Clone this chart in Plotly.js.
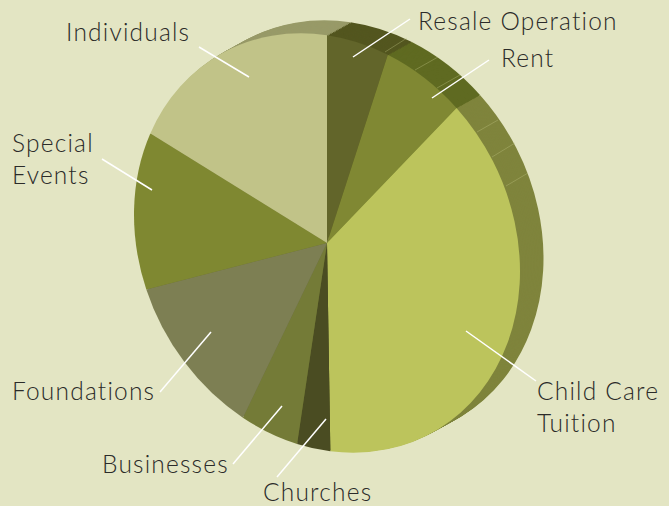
<!DOCTYPE html>
<html>
<head>
<meta charset="utf-8">
<script src="https://cdn.plot.ly/plotly-3.0.1.min.js"></script>
<style>html,body{margin:0;padding:0;background:#e3e5c3}#chart{width:669px;height:506px}
.annotation-text{letter-spacing:1.2px;font-variant-ligatures:none}</style>
</head>
<body>
<div id="chart"></div>
<script>
const categories = ["Resale Operation","Rent","Child Care Tuition","Churches","Businesses","Foundations","Special Events","Individuals"];
const shares = [5.1, 6.6, 38.0, 2.75, 4.7, 12.1, 12.3, 18.4];
const topColors = ["#62652a","#808833","#bcc45c","#4a4c22","#747b37","#7d7f53","#7f8831","#c1c388"];
const sideColors = ["#53561f","#5f6a21","#7f843c","#3d3f1b","#62682c","#6a6c44","#6a7228","#989a68"];
const labelTexts = ["Resale Operation","Rent","Child Care<br>Tuition","Churches","Businesses","Foundations","Special<br>Events","Individuals"];

const W = 669, H = 506;
// pie geometry: a small circular pie, then sheared into the tilted ellipse of the 3-D look
const cx = 327, cy = 243, r = 100;
const tilt = {a: 1.93, b: 0.2835, c: 0, d: 2.078};
const depth = {x: 23.5, y: -13};
const layers = 16;

const labelPos = [[416,20.5],[499,57],[535,406],[261,491],[100,463],[10,390],[10,158],[64,31.5]];
const leaders = [[[410,19],[353,57]],[[489,60],[432,98]],[[466,331],[536,381]],[[326,419],[277,477]],
                 [[282,406],[233,464]],[[211,332],[160,392]],[[102,159],[152,190]],[[199,47],[249,77]]];
const seams = [[[385,52],[407,38]],[[415,70],[438,57]],[[437,88],[460,75]],
               [[477,132],[498,120]],[[492,157],[515,143]],[[506,186],[528,173]]];

const domain = {x: [(cx-r)/W, (cx+r)/W], y: [(H-cy-r)/H, (H-cy+r)/H]};
const pieTrace = colors => ({
  type: "pie", labels: categories, values: shares, sort: false, direction: "clockwise", rotation: 0,
  textinfo: "none", hoverinfo: "label+percent", showlegend: false, domain: domain,
  marker: {colors: colors, line: {width: 0}}
});
const seg = (p, color, width) => ({
  type: "line", xref: "paper", yref: "paper",
  x0: p[0][0]/W, y0: 1-p[0][1]/H, x1: p[1][0]/W, y1: 1-p[1][1]/H,
  line: {color: color, width: width}
});
const layout = {
  width: W, height: H, margin: {l:0,r:0,t:0,b:0},
  paper_bgcolor: "#e3e5c3", plot_bgcolor: "#e3e5c3", showlegend: false,
  font: {family: "Lato, sans-serif", color: "#2b2b29"},
  shapes: seams.map(s => seg(s, "rgba(190,195,130,0.55)", 0.7)).concat(leaders.map(s => seg(s, "#ffffff", 1.5))),
  annotations: labelTexts.map((t,i) => ({
    text: t, xref: "paper", yref: "paper", x: labelPos[i][0]/W, y: 1-labelPos[i][1]/H,
    xanchor: "left", yanchor: "middle", align: "left", showarrow: false,
    font: {family: "Lato, sans-serif", size: 24.5, weight: 300, color: "#2b2b29"}
  }))
};
// side wall: the same pie stacked from the back towards the top face
const traces = [];
for (let i = 0; i < layers; i++) traces.push(pieTrace(sideColors));
traces.push(pieTrace(topColors));
Plotly.newPlot("chart", traces, layout, {displayModeBar:false, responsive:false}).then(gd => {
  const groups = gd.querySelectorAll(".pielayer .trace");
  groups.forEach((g, i) => {
    const t = 1 - i/layers;
    const e = cx + t*depth.x - tilt.a*cx - tilt.c*cy;
    const f = cy + t*depth.y - tilt.b*cx - tilt.d*cy;
    g.setAttribute("transform", `matrix(${tilt.a} ${tilt.b} ${tilt.c} ${tilt.d} ${e} ${f})`);
  });
});
</script>
</body>
</html>
